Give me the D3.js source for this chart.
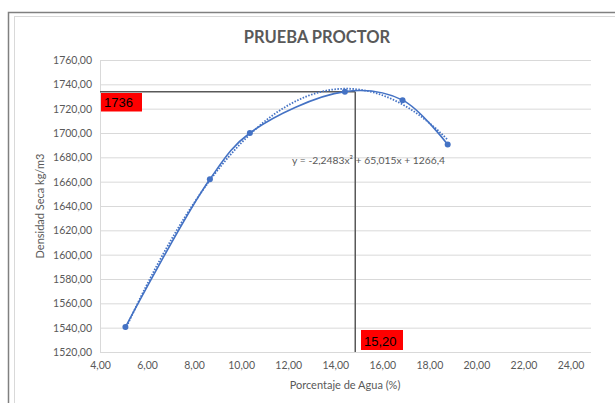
<!DOCTYPE html>
<html><head><meta charset="utf-8">
<script src="https://cdn.jsdelivr.net/npm/d3@7"></script>
<style>body{margin:0;background:#fff;} svg{display:block;}</style>
</head><body>
<script>
// data
const waterPct = [5.08, 8.67, 10.37, 14.41, 16.86, 18.78];
const dryDensity = [1540.5, 1662, 1700, 1734, 1727, 1690.5];
const xTicks = [4, 6, 8, 10, 12, 14, 16, 18, 20, 22, 24];
const yTicks = [1520, 1540, 1560, 1580, 1600, 1620, 1640, 1660, 1680, 1700, 1720, 1740, 1760];
const trendCoef = [-2.2483, 65.015, 1266.4];
const trendLabel = "y = -2,2483x² + 65,015x + 1266,4";
const optMoisture = 14.85, optDensity = 1734;
const labelDensity = "1736", labelMoisture = "15,20";
const title = "PRUEBA PROCTOR";
const xTitle = "Porcentaje de Agua  (%)";
const yTitle = "Densidad Seca kg/m3";

const W = 615, H = 403;
const svg = d3.select("body").append("svg").attr("width", W).attr("height", H);
const font = "Lato, 'Open Sans', sans-serif";
const fmt = v => v.toFixed(2).replace(".", ",");

// chart border
svg.append("rect").attr("x", 8.5).attr("y", 12.5).attr("width", 700).attr("height", 500)
  .attr("fill", "none").attr("stroke", "#808080").attr("stroke-width", 1.5);
svg.append("rect").attr("x", 14.5).attr("y", 16.5).attr("width", 700).attr("height", 500)
  .attr("fill", "none").attr("stroke", "#d9d9d9").attr("stroke-width", 1);

const x = d3.scaleLinear().domain([4, 24]).range([100, 570.5]);
const y = d3.scaleLinear().domain([1520, 1760]).range([352, 60]);
const xEnd = 591;

// gridlines
svg.append("g").selectAll("line").data(yTicks).join("line")
  .attr("x1", 100).attr("x2", xEnd).attr("y1", d => y(d) + 0.5).attr("y2", d => y(d) + 0.5)
  .attr("stroke", "#d9d9d9").attr("stroke-width", 1);
svg.append("line").attr("x1", 100.5).attr("x2", 100.5).attr("y1", y(1760)).attr("y2", y(1520))
  .attr("stroke", "#d9d9d9");

// axes labels via d3 axes
const yAxis = svg.append("g").attr("transform", "translate(96,0)")
  .call(d3.axisLeft(y).tickValues(yTicks).tickFormat(fmt).tickSize(0).tickPadding(4));
const xAxis = svg.append("g").attr("transform", "translate(0,360)")
  .call(d3.axisBottom(x).tickValues(xTicks).tickFormat(fmt).tickSize(0).tickPadding(2));
[yAxis, xAxis].forEach(a => {
  a.select(".domain").remove();
  a.selectAll("text").attr("font-family", font).attr("font-size", 10.5).attr("fill", "#595959");
});

// title
svg.append("text").attr("x", 317).attr("y", 43).attr("text-anchor", "middle")
  .attr("font-family", font).attr("font-weight", "bold").attr("font-size", 16.5)
  .attr("fill", "#595959").text(title);
svg.append("text").attr("x", 345).attr("y", 389).attr("text-anchor", "middle")
  .attr("font-family", font).attr("font-size", 11).attr("fill", "#595959").text(xTitle);
svg.append("text").attr("transform", "translate(44,206) rotate(-90)").attr("text-anchor", "middle")
  .attr("font-family", font).attr("font-size", 11).attr("fill", "#595959").text(yTitle);

// reference lines
svg.append("line").attr("x1", 100).attr("x2", x(optMoisture)).attr("y1", y(optDensity)).attr("y2", y(optDensity))
  .attr("stroke", "#595959").attr("stroke-width", 1.5);
svg.append("line").attr("x1", x(optMoisture)).attr("x2", x(optMoisture)).attr("y1", y(optDensity)).attr("y2", y(1520))
  .attr("stroke", "#595959").attr("stroke-width", 1.5);

// trendline (dotted)
const tx = d3.range(0, 101).map(i => waterPct[0] + (waterPct[waterPct.length - 1] - waterPct[0]) * i / 100);
const trend = tx.map(v => [v, trendCoef[0] * v * v + trendCoef[1] * v + trendCoef[2]]);
svg.append("path").datum(trend)
  .attr("d", d3.line().x(d => x(d[0])).y(d => y(d[1])))
  .attr("fill", "none").attr("stroke", "#4472c4").attr("stroke-width", 1.8).attr("stroke-dasharray", "1.5,1.5");

// data line (smoothed)
const pts = waterPct.map((v, i) => [v, dryDensity[i]]);
svg.append("path").datum(pts)
  .attr("d", d3.line().x(d => x(d[0])).y(d => y(d[1])).curve(d3.curveCatmullRom.alpha(0.5)))
  .attr("fill", "none").attr("stroke", "#4472c4").attr("stroke-width", 1.6);
svg.append("g").selectAll("circle").data(pts).join("circle")
  .attr("cx", d => x(d[0])).attr("cy", d => y(d[1])).attr("r", 3).attr("fill", "#4472c4");

// equation
svg.append("text").attr("x", 445).attr("y", 164).attr("text-anchor", "end")
  .attr("font-family", font).attr("font-size", 10.3).attr("fill", "#595959").text(trendLabel);

// red labels
function redLabel(x0, y0, w, h, t) {
  svg.append("rect").attr("x", x0).attr("y", y0).attr("width", w).attr("height", h).attr("fill", "#ff0000");
  svg.append("text").attr("x", x0 + 3).attr("y", y0 + h - 4.5).attr("font-family", "'Liberation Sans', Arial, sans-serif")
    .attr("font-size", 13).attr("fill", "#000").text(t);
}
redLabel(101, 93, 41, 18.5, labelDensity);
redLabel(361, 330, 42, 20, labelMoisture);
</script>
</body></html>
